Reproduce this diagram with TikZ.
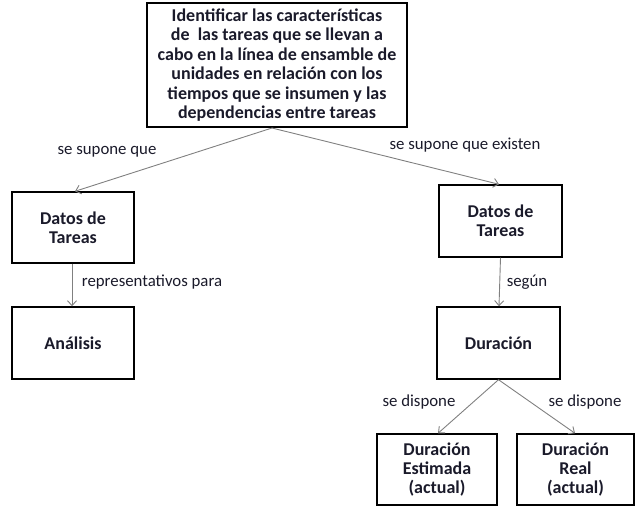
\documentclass[tikz,border=0pt]{standalone}
\usepackage{fontspec}
\setmainfont{Carlito}
\usetikzlibrary{arrows.meta}
\definecolor{txt}{HTML}{1A1A2A}
\definecolor{arr}{HTML}{808080}
\tikzset{
  box/.style={draw=black, line width=1.4pt, fill=white, align=center, text=txt,
    font=\fontsize{18}{19.4}\selectfont\bfseries, inner sep=2pt},
  conn/.style={draw=arr, line width=0.9pt, -{Straight Barb[length=5pt,width=9pt,line width=0.9pt]}},
  lbl/.style={text=txt, font=\fontsize{16.8}{18}\selectfont, inner sep=0pt}
}
\begin{document}
\begin{tikzpicture}[x=1pt,y=-1pt]
\useasboundingbox (0,0) rectangle (636,508);
\node[box, minimum width=260pt, minimum height=124pt] (top) at (277,65)
  {Identificar las características\\de \ las tareas que se llevan a\\cabo en la línea de ensamble de\\unidades en relación con los\\tiempos que se insumen y las\\dependencias entre tareas};
\node[box, minimum width=122pt, minimum height=71pt] (d1) at (73,227.5) {Datos de\\Tareas};
\node[box, minimum width=123pt, minimum height=72pt] (d2) at (500.5,221) {Datos de\\Tareas};
\node[box, minimum width=122pt, minimum height=72pt] (an) at (73,343) {Análisis};
\node[box, minimum width=123pt, minimum height=72pt] (du) at (498.5,343) {Duración};
\node[box, minimum width=120pt, minimum height=71pt] (de) at (437,469.5) {Duración\\Estimada\\(actual)};
\node[box, minimum width=117pt, minimum height=71pt] (dr) at (575.5,469.5) {Duración\\Real\\(actual)};
\coordinate (ts) at (272,128);
\draw[conn] (ts) -- ([xshift=2pt]d1.north);
\draw[conn] (ts) -- ([xshift=-1.5pt]d2.north);
\draw[conn] ([xshift=-1pt]d1.south) -- ([xshift=-1pt]an.north);
\draw[conn] (d2.south) -- ([xshift=0.5pt]du.north);
\draw[conn] (du.south) -- ([xshift=1pt]de.north);
\draw[conn] (du.south) -- ([xshift=-0.5pt]dr.north);
\node[lbl] (l1) at (107,152) {se supone que};
\node[lbl] (l2) at (465,145) {se supone que existen};
\node[lbl] (l3) at (152,282) {representativos para};
\node[lbl] (l4) at (527,282) {según};
\node[lbl] (l5) at (419,402) {se dispone};
\node[lbl] (l6) at (585,402) {se dispone};
\end{tikzpicture}
\end{document}
